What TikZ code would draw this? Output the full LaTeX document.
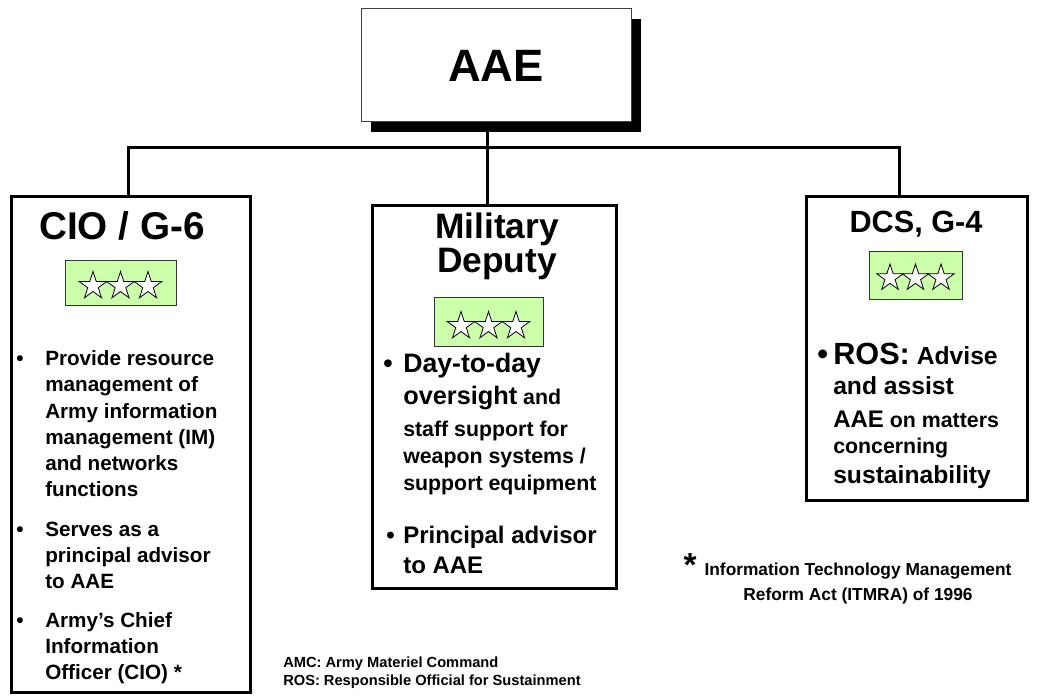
\documentclass[tikz,border=0pt]{standalone}
\usepackage{fontspec}
\setmainfont{Liberation Sans}
\usetikzlibrary{shapes.geometric,shadows}
\definecolor{starbg}{HTML}{CCFFAA}
\newcommand{\fsz}[1]{\fontsize{#1}{#1}\selectfont}
\begin{document}
\begin{tikzpicture}[x=0.75pt,y=-0.75pt,
  box/.style={draw=black, line width=2.25pt, fill=white, inner sep=0pt},
  conn/.style={line width=2.25pt},
  rankbox/.style={draw=black!80, line width=0.75pt, fill=starbg, inner sep=0pt},
  starsh/.style={star, star points=5, star point ratio=2.618, draw=black, fill=white, line width=0.6pt, inner sep=0pt, minimum size=21.75pt},
  txt/.style={anchor=base west, inner sep=0pt, font=\bfseries},
  ctxt/.style={anchor=base, inner sep=0pt, font=\bfseries},
  ctx/.style={txt, font=\bfseries\fsz{15.5}}]
\useasboundingbox (0,0) rectangle (1042,698);

% main boxes
\node[box, draw=black!75, line width=0.75pt, minimum width=202.5pt, minimum height=84.75pt,
      drop shadow={shadow xshift=7.5pt, shadow yshift=-7.5pt, fill=black, opacity=1},
      font=\bfseries\fsz{34}] (aae) at (496,65.5) {AAE};
\node[box, minimum width=179.25pt, minimum height=371.25pt] (cio) at (130.5,444.5) {};
\node[box, minimum width=183pt, minimum height=286.5pt] (md) at (494,397) {};
\node[box, minimum width=165.75pt, minimum height=227.25pt] (dcs) at (916.5,348.5) {};

% connectors
\coordinate (busL) at (128,148);
\coordinate (busM) at (487,148);
\coordinate (busR) at (899,148);
\draw[conn] (cio.north -| busL) -- (busL) -- (busR) -- (dcs.north -| busR);
\draw[conn] (aae.south -| busM) -- (md.north -| busM);

% rank boxes with stars
\node[rankbox, minimum width=83.25pt, minimum height=33.75pt] (rk1) at (120.5,283.5) {};
\node[starsh] (s11) at (93,286) {};
\node[starsh] (s12) at (120.5,286) {};
\node[starsh] (s13) at (148,286) {};
\node[rankbox, minimum width=81.75pt, minimum height=36.75pt] (rk2) at (488.5,322.5) {};
\node[starsh] (s21) at (461,326) {};
\node[starsh] (s22) at (488.5,326) {};
\node[starsh] (s23) at (516,326) {};
\node[rankbox, minimum width=69.75pt, minimum height=36pt] (rk3) at (915.5,276) {};
\node[starsh, minimum size=21pt] (s31) at (890,278) {};
\node[starsh, minimum size=21pt] (s32) at (915.5,278) {};
\node[starsh, minimum size=21pt] (s33) at (941,278) {};

% titles
\node[ctxt, font=\bfseries\fsz{29}] (t1) at (122,240) {CIO / G-6};
\node[ctxt, font=\bfseries\fsz{26.5}] (t2a) at (497,239) {Military};
\node[ctxt, font=\bfseries\fsz{26.5}] (t2b) at (497,273) {Deputy};
\node[ctxt, font=\bfseries\fsz{23}] (t3) at (916,233) {DCS, G-4};

% CIO bullets
\node[ctx] (cb1) at (16,366) {•};
\node[ctx] (cb2) at (16,536) {•};
\node[ctx] (cb3) at (16,627) {•};
\node[ctx] (c1) at (45,366) {Provide resource};
\node[ctx] (c2) at (45,392) {management of};
\node[ctx] (c3) at (45,418) {Army information};
\node[ctx] (c4) at (45,444) {management (IM)};
\node[ctx] (c5) at (45,470) {and networks};
\node[ctx] (c6) at (45,496) {functions};
\node[ctx] (c7) at (45,536) {Serves as a};
\node[ctx] (c8) at (45,562) {principal advisor};
\node[ctx] (c9) at (45,588) {to AAE};
\node[ctx] (c10) at (45,627) {Army’s Chief};
\node[ctx] (c11) at (45,653) {Information};
\node[ctx] (c12) at (45,679) {Officer (CIO) *};

% Military Deputy bullets
\node[txt, font=\bfseries\fsz{20}] (mb1) at (383,373) {•};
\node[txt, font=\bfseries\fsz{20}] (m1) at (403,373) {Day-to-day};
\node[txt] (m2) at (403,405) {{\fsz{19}oversight}{\fsz{16} and}};
\node[txt, font=\bfseries\fsz{16}] (m3) at (403,436) {staff support for};
\node[txt, font=\bfseries\fsz{16}] (m4) at (403,463) {weapon systems /};
\node[txt, font=\bfseries\fsz{16}] (m5) at (403,490) {support equipment};
\node[txt, font=\bfseries\fsz{18}] (mb2) at (386,543) {•};
\node[txt, font=\bfseries\fsz{18}] (m6) at (403,543) {Principal advisor};
\node[txt, font=\bfseries\fsz{18}] (m7) at (403,573) {to AAE};

% DCS bullets
\node[txt, font=\bfseries\fsz{23}] (db1) at (817,364) {•};
\node[txt] (d1) at (833,364) {{\fsz{23}ROS:}{\fsz{18.5} Advise}};
\node[txt, font=\bfseries\fsz{18.5}] (d2) at (833,394) {and assist};
\node[txt] (d3) at (833,427) {{\fsz{18}AAE}{\fsz{16} on matters}};
\node[txt, font=\bfseries\fsz{16}] (d4) at (833,453) {concerning};
\node[txt, font=\bfseries\fsz{18.5}] (d5) at (833,483) {sustainability};

% footnote
\node[ctxt, font=\bfseries\fsz{25}] (ast) at (690,576) {*};
\node[ctxt, font=\bfseries\fsz{13}] (f1) at (858,575) {Information Technology Management};
\node[ctxt, font=\bfseries\fsz{13}] (f2) at (858,600) {Reform Act (ITMRA) of 1996};

% abbreviations
\node[txt, font=\bfseries\fsz{11}] (a1) at (283,667) {AMC: Army Materiel Command};
\node[txt, font=\bfseries\fsz{11}] (a2) at (283,685) {ROS: Responsible Official for Sustainment};
\end{tikzpicture}
\end{document}
